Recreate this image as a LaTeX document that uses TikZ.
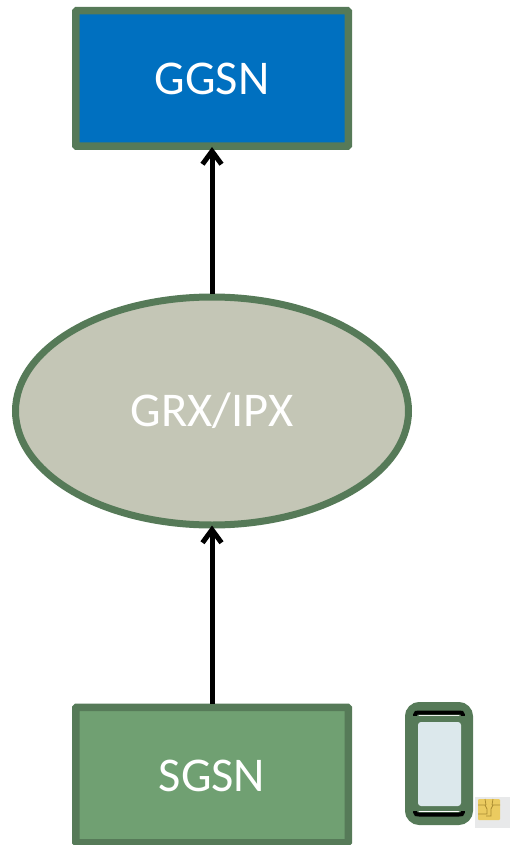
\documentclass[tikz,border=0pt]{standalone}
\usepackage{fontspec}
\setmainfont{Carlito}
\usetikzlibrary{arrows.meta,shapes.geometric}
\definecolor{edgegreen}{HTML}{567A58}
\definecolor{ggsnblue}{HTML}{0070C0}
\definecolor{sgsngreen}{HTML}{70A072}
\definecolor{grxgrey}{HTML}{C4C6B6}
\definecolor{screenblue}{HTML}{DCE8EC}
\definecolor{simgrey}{HTML}{E8E9EA}
\definecolor{chipyellow}{HTML}{EBCB60}
\definecolor{chipline}{HTML}{A88A30}
\tikzset{
  x=1pt,y=-1pt,
  netbox/.style={draw=edgegreen,line width=7.5pt,rounded corners=1pt,minimum width=272.5pt,minimum height=135.5pt,inner sep=0pt,text height=33pt,text=white,font=\fontsize{48.5}{52}\selectfont},
  netoval/.style={ellipse,draw=edgegreen,line width=7pt,fill=grxgrey,minimum width=393pt,minimum height=228pt,inner sep=0pt,text=white,font=\fontsize{48.5}{52}\selectfont},
  flow/.style={-{Straight Barb[length=13pt,width=19pt,line width=5pt]},line width=5pt,black,shorten >=-3pt},
}
\begin{document}
\begin{tikzpicture}
\useasboundingbox (0,0) rectangle (510,845);
\node[netbox,fill=ggsnblue] (ggsn) at (212,78.5) {GGSN};
\node[netoval] (grx) at (212,411) {GRX/IPX};
\node[netbox,fill=sgsngreen] (sgsn) at (212,775) {SGSN};
\draw[flow] (grx.north) -- (ggsn.south);
\draw[flow] (sgsn.north) -- (grx.south);
% phone
\draw[edgegreen,line width=13pt,rounded corners=8pt] (411.5,708.5) rectangle (466.5,818.5);
\fill[edgegreen] (414,716) rectangle (464,811);
\draw[black,line width=4pt,line cap=round] (415,715) .. controls (416,712.5) .. (419,712.5) -- (459,712.5) .. controls (462,712.5) .. (463,715);
\draw[black,line width=4pt,line cap=round] (415,812) .. controls (416,814.5) .. (419,814.5) -- (459,814.5) .. controls (462,814.5) .. (463,812);
\fill[edgegreen] (412,715.5) rectangle (466,811);
\fill[screenblue,rounded corners=3pt] (418,722) rectangle (461,806);
% SIM
\fill[simgrey] (475,797) rectangle (510,828);
\fill[chipyellow,rounded corners=1pt] (478,799) rectangle (500,820);
\draw[chipline,line width=0.7pt] (478,805) -- (485,805) -- (487,809) -- (487,814) -- (478,814)
  (500,805) -- (493,805) -- (491,809) -- (491,816) -- (486,816) (485,799) -- (486,805) (493,799) -- (492,805);
\end{tikzpicture}
\end{document}
